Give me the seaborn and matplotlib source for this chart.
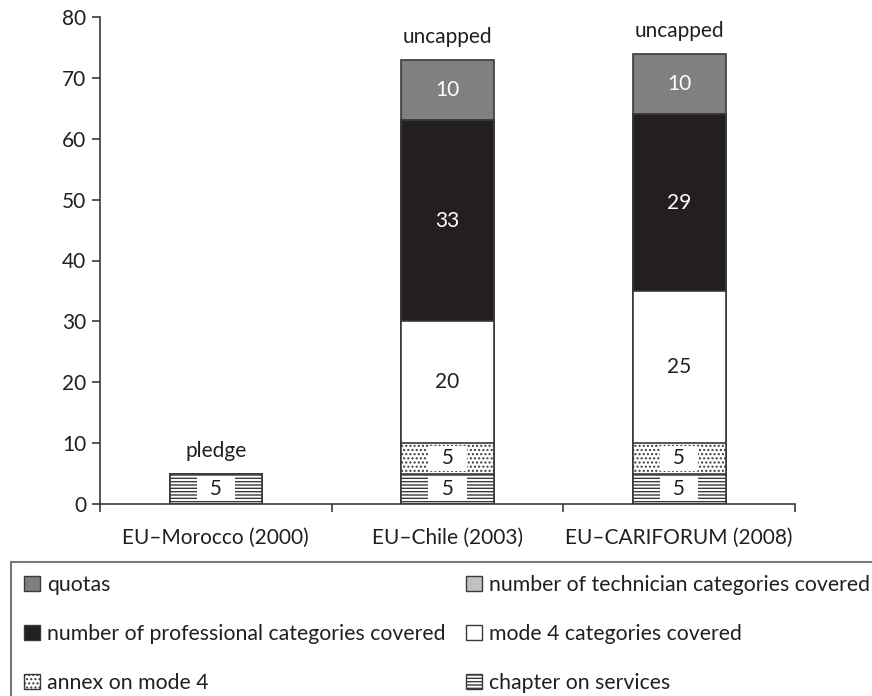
import matplotlib
matplotlib.use("Agg")
import matplotlib.pyplot as plt
import seaborn as sns
import numpy as np
from matplotlib.patches import Patch

# Data: mode 4 commitments in EU trade agreements
agreements = ["EU–Morocco (2000)", "EU–Chile (2003)", "EU–CARIFORUM (2008)"]
chapter_on_services = [5, 5, 5]
annex_on_mode4 = [0, 5, 5]
mode4_categories = [0, 20, 25]
professional_categories = [0, 33, 29]
technician_categories = [0, 0, 0]
quotas = [0, 10, 10]
top_notes = ["pledge", "uncapped", "uncapped"]

sns.set_theme(style="ticks")
plt.rcParams["font.family"] = ["Lato", "DejaVu Sans"]
plt.rcParams["hatch.linewidth"] = 1.0

INK = "#231f20"
EDGE = "#3a3a3a"
FS = 15

# bottom-to-top stack: (label, values, face, hatch, text colour, white box behind text)
layers = [
    ("chapter on services", chapter_on_services, "white", "-----", INK, True),
    ("annex on mode 4", annex_on_mode4, "white", "....", INK, True),
    ("mode 4 categories covered", mode4_categories, "white", None, INK, False),
    ("number of professional categories covered", professional_categories, INK, None, "white", False),
    ("number of technician categories covered", technician_categories, "#c0c0c0", None, INK, False),
    ("quotas", quotas, "#808080", None, "white", False),
]

fig = plt.figure(figsize=(8.72, 6.96), dpi=100)
ax = fig.add_axes([100 / 872, 1 - 504 / 696, 695 / 872, 487 / 696])

values = np.array([l[1] for l in layers], dtype=float)
tops = np.cumsum(values, axis=0)
bottoms = tops - values

# stacked bars: draw cumulative heights from the top layer down
for k in range(len(layers) - 1, -1, -1):
    name, vals, face, hatch, tcol, boxed = layers[k]
    sns.barplot(x=agreements, y=tops[k], color=face, saturation=1, width=0.4,
                edgecolor=EDGE, linewidth=1.2, hatch=hatch, ax=ax, zorder=2)

# segment value labels
for k, (name, vals, face, hatch, tcol, boxed) in enumerate(layers):
    for i, v in enumerate(vals):
        if v <= 0:
            continue
        y = bottoms[k, i] + v / 2
        if boxed:
            ax.text(i, y, f"  {v:g}  ", ha="center", va="center", fontsize=FS,
                    color=tcol, zorder=5,
                    bbox=dict(boxstyle="square,pad=0.12", fc="white", ec="none"))
        else:
            ax.text(i, y, f"{v:g}", ha="center", va="center", fontsize=FS,
                    color=tcol, zorder=5)

# notes above each bar
totals = tops[-1]
for i, note in enumerate(top_notes):
    ax.annotate(note, (i, totals[i]), xytext=(0, 16), textcoords="offset points",
                ha="center", va="center", fontsize=FS, color=INK)

ax.set_ylim(0, 80)
ax.set_xlim(-0.5, 2.5)
ax.set_yticks(np.arange(0, 81, 10))
ax.set_xticks(range(len(agreements)))
ax.set_xticklabels(agreements)
ax.set_xticks([-0.5, 0.5, 1.5, 2.5], minor=True)
ax.tick_params(axis="x", which="major", length=0, pad=17, labelsize=FS, labelcolor=INK)
ax.tick_params(axis="x", which="minor", length=6, width=1.2, color=EDGE, direction="out")
ax.tick_params(axis="y", length=6, width=1.2, color=EDGE, direction="out", pad=4,
               labelsize=FS, labelcolor=INK)
ax.set_xlabel("")
ax.set_ylabel("")
sns.despine(ax=ax)
for s in ("left", "bottom"):
    ax.spines[s].set_color(EDGE)
    ax.spines[s].set_linewidth(1.2)

# legend, column-major order
order = [5, 3, 1, 4, 2, 0]
handles = []
for k in order:
    name, vals, face, hatch, tcol, boxed = layers[k]
    handles.append(Patch(facecolor=face, edgecolor=EDGE, hatch=hatch, linewidth=1.0,
                         label=name))
leg = fig.legend(handles=handles, loc="upper left",
                 bbox_to_anchor=(11 / 872, 1 - 562 / 696), ncol=2, frameon=True,
                 fancybox=False, edgecolor="#555555", borderaxespad=0, borderpad=0.6,
                 handlelength=0.75, handleheight=0.75, handletextpad=0.35,
                 labelspacing=1.37, columnspacing=0.95, fontsize=15.3, labelcolor=INK)
leg.get_frame().set_linewidth(1.5)

fig.savefig("out.png", dpi=100)
